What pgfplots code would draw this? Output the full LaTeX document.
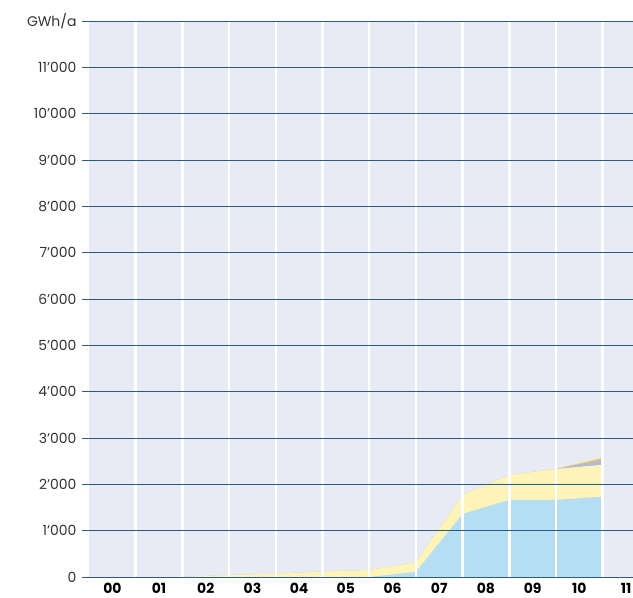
\documentclass[border=0pt]{standalone}
\usepackage{pgfplots}
\pgfplotsset{compat=1.18}
\usepackage{fontspec}
\setmainfont{Poppins}
\definecolor{bgcol}{HTML}{E8EBF3}
\definecolor{gridblue}{HTML}{2B5A85}
\definecolor{areablue}{HTML}{B5DEF3}
\definecolor{areayellow}{HTML}{FFF4B8}
\definecolor{areagray}{HTML}{B5B8D9}
\definecolor{areagold}{HTML}{F2D21B}
\begin{document}
\begin{tikzpicture}
\useasboundingbox (0,0) rectangle (633bp,598bp);
\begin{axis}[
    at={(89bp,21bp)}, anchor=south west,
    scale only axis,
    width=544bp, height=556bp,
    xmin=0, xmax=11.65,
    ymin=0, ymax=12000,
    scaled y ticks=false,
    axis x line*=bottom, axis y line*=left,
    axis line style={draw=none},
    axis background/.style={fill=bgcol},
    axis on top,
    stack plots=y,
    ytick={0,1000,...,12000},
    yticklabels={0,1’000,2’000,3’000,4’000,5’000,6’000,7’000,8’000,9’000,10’000,11’000,GWh/a},
    ymajorgrids,
    major grid style={color=gridblue, line width=0.8bp},
    ytick style={color=gridblue, line width=0.8bp},
    tick align=outside,
    major tick length=7bp,
    xtick={0.5,1.5,...,11.5},
    xticklabels={00,01,02,03,04,05,06,07,08,09,10,11},
    xtick style={draw=none},
    minor xtick={1,2,...,11},
    xminorgrids,
    minor grid style={color=white, line width=2.5bp},
    yticklabel style={font=\fontsize{14}{16}\selectfont, text=black!80, xshift=-2bp},
    xticklabel style={font=\fontsize{14}{16}\selectfont\bfseries, text=black, yshift=4bp},
]
\addplot[fill=areablue, draw=none] coordinates {
(0,0) (1,0) (2,0) (3,0) (4,0) (5,0) (6,0) (7,110) (8,1360) (9,1665) (10,1665) (11,1730)
} \closedcycle;
\addplot[fill=areayellow, draw=none] coordinates {
(0,0) (1,0) (2,0) (3,40) (4,70) (5,115) (6,150) (7,210) (8,410) (9,535) (10,665) (11,690)
} \closedcycle;
\addplot[fill=areagray, draw=none] coordinates {
(0,0) (1,0) (2,0) (3,0) (4,0) (5,0) (6,0) (7,0) (8,0) (9,0) (10,0) (11,120)
} \closedcycle;
\addplot[fill=areagold, draw=none] coordinates {
(0,0) (1,0) (2,0) (3,0) (4,0) (5,0) (6,0) (7,0) (8,0) (9,0) (10,5) (11,30)
} \closedcycle;
\end{axis}
\end{tikzpicture}
\end{document}
